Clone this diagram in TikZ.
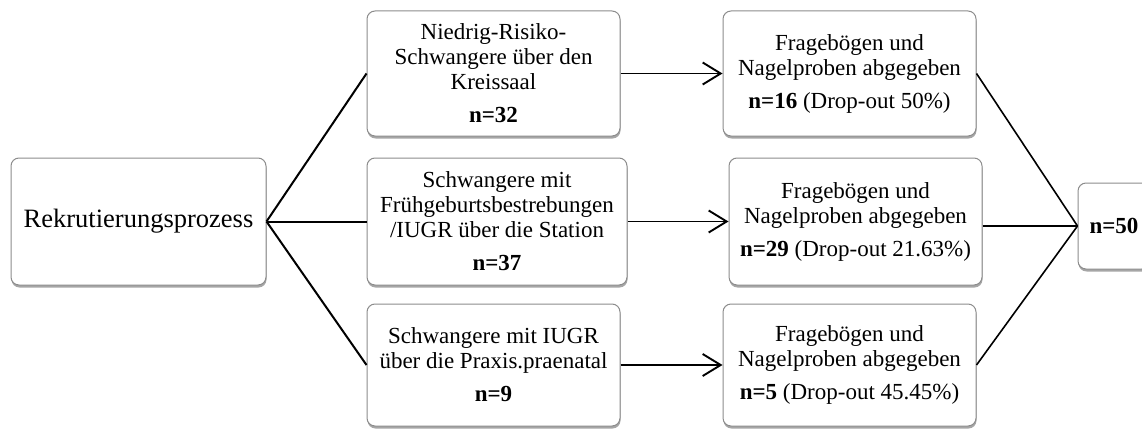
\documentclass[tikz,border=0pt]{standalone}
\usepackage{fontspec}
\setmainfont{Liberation Serif}
\usetikzlibrary{positioning, arrows.meta, shadows}

\begin{document}
\begin{tikzpicture}[
    x=1pt, y=1pt,
    node distance=20pt,
    stage/.style={
        rectangle,
        rounded corners=8pt,
        draw=gray!90,
        line width=1pt,
        fill=white,
        drop shadow={shadow xshift=0.5pt, shadow yshift=-2.5pt, opacity=0.35, fill=black},
        align=center,
        inner sep=4pt,
        font=\fontsize{23}{25}\selectfont
    },
    link/.style={line width=2pt},
    arrow/.style={->, line width=1.9pt},
    >={Straight Barb[length=18pt, width=22pt]}
]

\useasboundingbox (0,0) rectangle (1142,-428);

% Start
\node[stage, minimum width=255pt, minimum height=127pt, font=\fontsize{26.5}{29}\selectfont] (root) at (138.5,-221.5) {Rekrutierungsprozess};

% Recruitment paths
\node[stage, right=100pt of root, minimum width=260pt, minimum height=127pt] (station) {
    Schwangere mit\\Frühgeburtsbestrebungen\\/IUGR über die Station\\[8pt]
    \textbf{n=37}
};
\node[stage, above=21pt of station.north west, anchor=south west, minimum width=253pt, minimum height=125pt] (kreissaal) {
    Niedrig-Risiko-\\Schwangere über den\\Kreissaal\\[8pt]
    \textbf{n=32}
};
\node[stage, below=18pt of station.south west, anchor=north west, minimum width=253pt, minimum height=122pt] (praxis) {
    Schwangere mit IUGR\\über die Praxis.praenatal\\[8pt]
    \textbf{n=9}
};

% Returned samples
\node[stage, right=102pt of kreissaal, minimum width=253pt, minimum height=125pt] (back1) {
    Fragebögen und\\Nagelproben abgegeben\\[8pt]
    \textbf{n=16} (Drop-out 50\%)
};
\node[stage, right=101pt of station, minimum width=253pt, minimum height=127pt] (back2) {
    Fragebögen und\\Nagelproben abgegeben\\[8pt]
    \textbf{n=29} (Drop-out 21.63\%)
};
\node[stage, right=102pt of praxis, minimum width=253pt, minimum height=122pt] (back3) {
    Fragebögen und\\Nagelproben abgegeben\\[8pt]
    \textbf{n=5} (Drop-out 45.45\%)
};

% Total
\node[stage, right=95pt of back2, yshift=-4.5pt, minimum width=72pt, minimum height=86pt] (total) {\textbf{n=50}};

% Lines
\draw[link] (root.east) -- (kreissaal.west);
\draw[link] (root.east) -- (station.west);
\draw[link] (root.east) -- (praxis.west);

\draw[arrow] (kreissaal) -- (back1);
\draw[arrow] (station) -- (back2);
\draw[arrow] (praxis) -- (back3);

\draw[line width=1.6pt] (back1.east) -- (total.west);
\draw[line width=1.6pt] (back2.east |- total.west) -- (total.west);
\draw[line width=1.6pt] (back3.east) -- (total.west);

\end{tikzpicture}
\end{document}
